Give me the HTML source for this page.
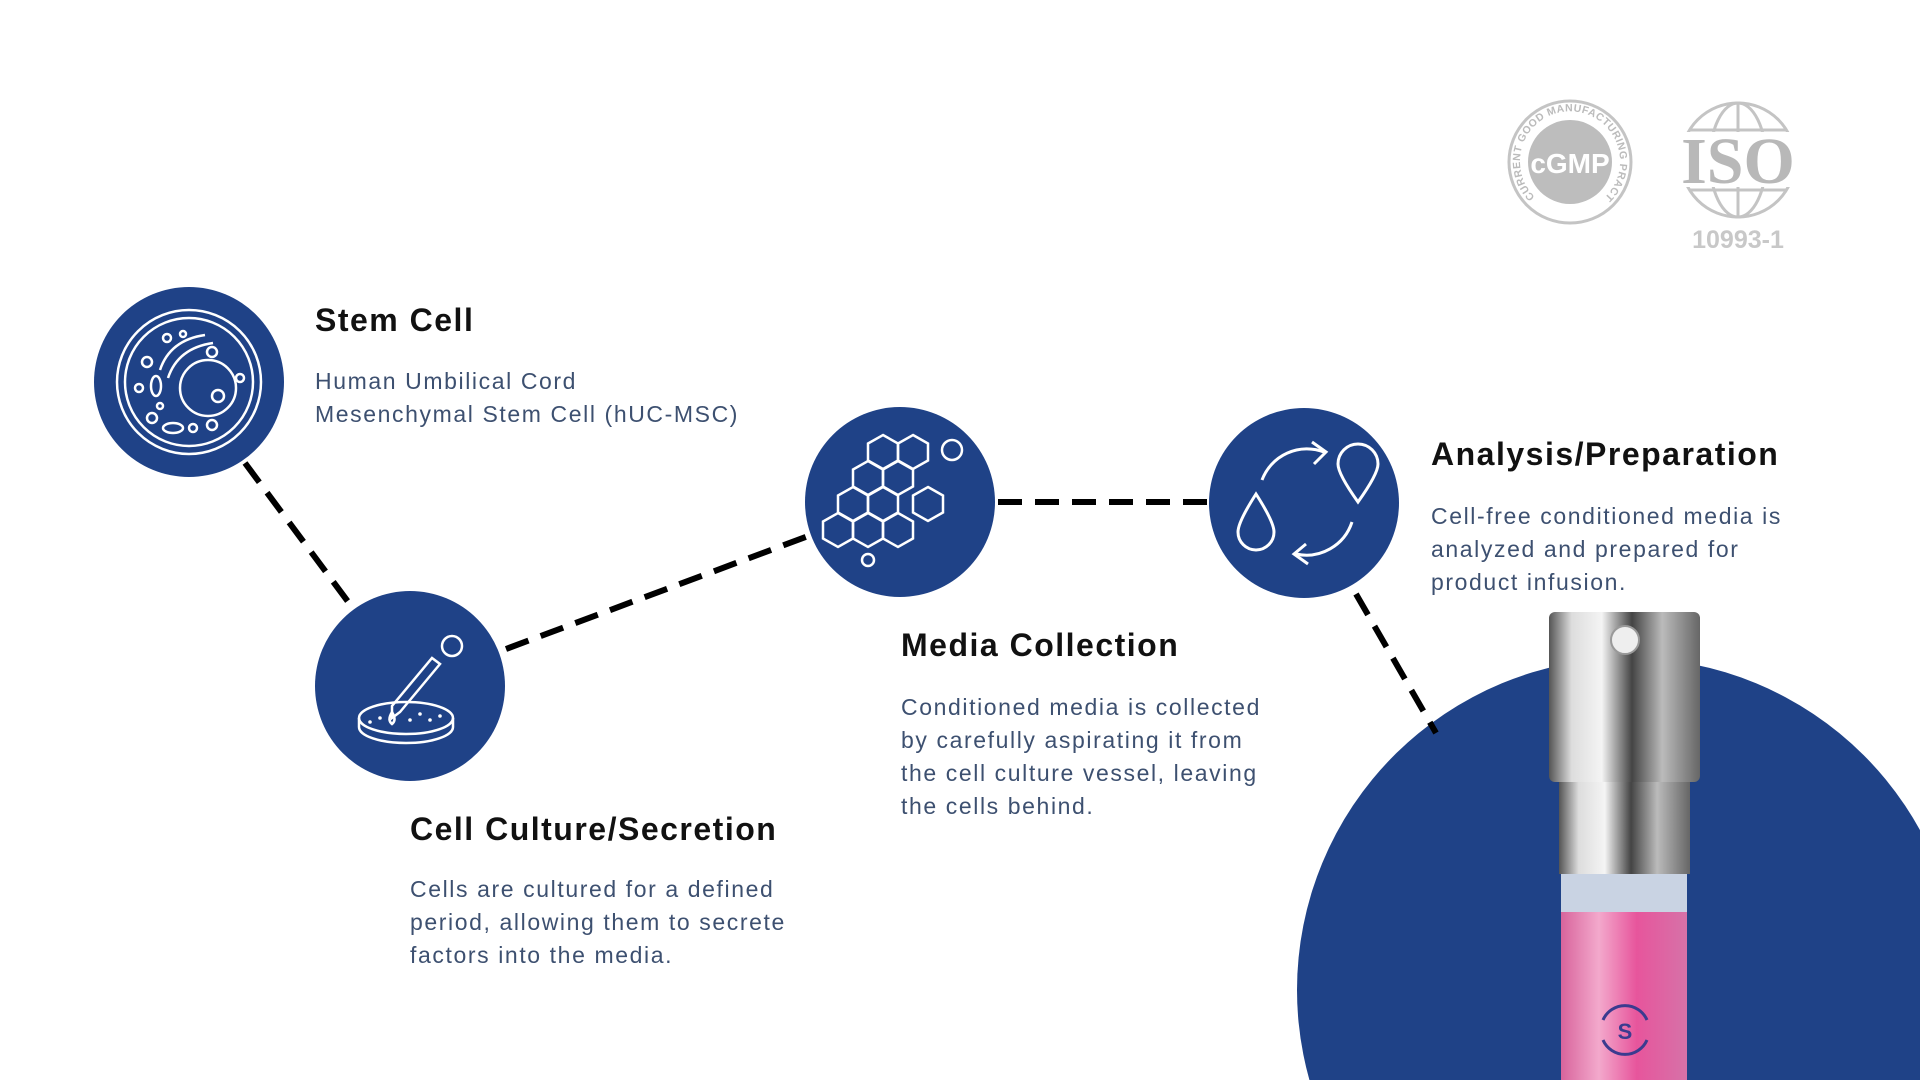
<!DOCTYPE html>
<html><head><meta charset="utf-8">
<style>
html,body{margin:0;padding:0;background:#fff;width:1920px;height:1080px;overflow:hidden;}
body{position:relative;font-family:"Liberation Sans",sans-serif;}
svg{position:absolute;left:0;top:0;display:block;}
.t{position:absolute;font-weight:bold;font-size:32px;color:#111;white-space:nowrap;line-height:40px;letter-spacing:1.5px;}
.b{position:absolute;font-size:23px;color:#3d5070;line-height:33px;white-space:nowrap;letter-spacing:1.6px;}
</style></head><body>
<svg width="1920" height="1080" viewBox="0 0 1920 1080">
 <defs>
  <linearGradient id="metal" x1="0" x2="1">
   <stop offset="0" stop-color="#555"/><stop offset="0.15" stop-color="#ddd"/><stop offset="0.35" stop-color="#f4f4f4"/><stop offset="0.55" stop-color="#444"/><stop offset="0.75" stop-color="#bbb"/><stop offset="1" stop-color="#666"/>
  </linearGradient>
  <linearGradient id="pink" x1="0" x2="1">
   <stop offset="0" stop-color="#d8649c"/><stop offset="0.3" stop-color="#f3a9cc"/><stop offset="0.6" stop-color="#e7559c"/><stop offset="1" stop-color="#d672a8"/>
  </linearGradient>
 </defs>
 <circle cx="1629" cy="990" r="332" fill="#1f4287"/>
 <g stroke="#000" stroke-width="6" stroke-dasharray="24 13" fill="none">
  <line x1="245" y1="463" x2="349" y2="603"/>
  <line x1="506" y1="649" x2="811" y2="535"/>
  <line x1="998" y1="502" x2="1210" y2="502"/>
  <line x1="1356" y1="594" x2="1436" y2="733"/>
 </g>
 <g fill="#1f4287">
  <circle cx="189" cy="382" r="95"/>
  <circle cx="410" cy="686" r="95"/>
  <circle cx="900" cy="502" r="95"/>
  <circle cx="1304" cy="503" r="95"/>
 </g>
 <g stroke="#fff" stroke-width="2.5" fill="none">
  <circle cx="189" cy="382" r="72"/><circle cx="189" cy="382" r="64"/>
  <circle cx="208" cy="388" r="28"/><circle cx="218" cy="396" r="6"/>
  <path d="M160 370 q10 -30 45 -35"/><path d="M168 378 q10 -30 45 -35"/>
  <circle cx="147" cy="362" r="5"/><circle cx="167" cy="338" r="4"/><circle cx="139" cy="388" r="4"/>
  <ellipse cx="156" cy="386" rx="5" ry="10"/><ellipse cx="173" cy="428" rx="10" ry="5"/>
  <circle cx="152" cy="418" r="5"/><circle cx="193" cy="428" r="4"/><circle cx="212" cy="425" r="5"/>
  <circle cx="212" cy="352" r="5"/><circle cx="183" cy="334" r="3"/><circle cx="240" cy="378" r="4"/><circle cx="160" cy="406" r="3"/>
 </g>
 <g stroke="#fff" stroke-width="2.5" fill="none">
  <ellipse cx="406" cy="718" rx="47" ry="16"/><path d="M359 718 v9 a47 16 0 0 0 94 0 v-9"/>
  <path d="M392 718 v-12 l40 -48 l8 6 l-40 48 z"/><circle cx="452" cy="646" r="10"/>
  <path d="M392 712 q-5 8 0 12 q5 -4 0 -12"/>
 </g>
 <g fill="#fff"><circle cx="380" cy="718" r="1.8"/><circle cx="410" cy="720" r="1.8"/><circle cx="420" cy="714" r="1.8"/><circle cx="430" cy="720" r="1.8"/><circle cx="370" cy="722" r="1.8"/><circle cx="440" cy="716" r="1.8"/></g>
 <g stroke="#fff" stroke-width="2.5" fill="none">
  <path id="hx" d="M0 -17 l15 8.5 v17 l-15 8.5 l-15 -8.5 v-17 z" transform="translate(868 478)"/>
  <use href="#hx" x="30" y="0"/><use href="#hx" x="15" y="-26"/><use href="#hx" x="45" y="-26"/>
  <use href="#hx" x="15" y="26"/><use href="#hx" x="-15" y="26"/><use href="#hx" x="60" y="26"/>
  <use href="#hx" x="30" y="52"/><use href="#hx" x="-30" y="52"/><use href="#hx" x="0" y="52"/>
  <circle cx="952" cy="450" r="10"/><circle cx="868" cy="560" r="6"/>
 </g>
 <g stroke="#fff" stroke-width="3" fill="none">
  <path d="M1262 480 a48 48 0 0 1 62 -28"/><path d="M1312 442 l14 10 l-12 12"/>
  <path d="M1352 522 a48 48 0 0 1 -56 32"/><path d="M1306 544 l-12 10 l14 10"/>
  <path d="M1256 494 q-18 28 -18 38 a18 18 0 0 0 36 0 q0 -10 -18 -38 z"/>
  <path d="M1358 502 q-20 -28 -20 -38 a20 20 0 0 1 40 0 q0 10 -20 38 z"/>
 </g>
 <rect x="1561" y="872" width="126" height="208" fill="url(#pink)"/>
 <rect x="1561" y="872" width="126" height="40" fill="#c9d3e3"/>
 <rect x="1559" y="781" width="131" height="93" fill="url(#metal)"/>
 <rect x="1549" y="612" width="151" height="170" rx="6" fill="url(#metal)"/>
 <circle cx="1625" cy="640" r="14" fill="#eee" stroke="#999" stroke-width="2"/>
 <g stroke="#3b3b8f" stroke-width="3" fill="none">
  <path d="M1603 1020 a24 24 0 0 1 44 0"/><path d="M1603 1040 a24 24 0 0 0 44 0"/>
 </g>
 <text x="1625" y="1039" text-anchor="middle" font-family="Liberation Sans" font-weight="bold" font-size="22" fill="#3b3b8f">S</text>
 <g>
  <circle cx="1570" cy="162" r="61" fill="#fff" stroke="#c4c4c4" stroke-width="3"/>
  <circle cx="1570" cy="162" r="42" fill="#bdbdbd"/>
  <text x="1570" y="173" text-anchor="middle" font-family="Liberation Sans" font-weight="bold" font-size="28" fill="#fff">cGMP</text>
  <path id="ring" d="M1535 197 A50 50 0 1 1 1605 197" fill="none"/>
  <text font-family="Liberation Sans" font-weight="bold" font-size="10.5" fill="#bbb" letter-spacing="0.5"><textPath href="#ring">CURRENT GOOD MANUFACTURING PRACTICE</textPath></text>
 </g>
 <g stroke="#c4c4c4" stroke-width="3" fill="none">
  <circle cx="1738" cy="160" r="57"/>
  <ellipse cx="1738" cy="160" rx="28" ry="57"/>
  <path d="M1738 103 v114 M1690 130 h96 M1690 190 h96"/>
 </g>
 <rect x="1668" y="132" width="140" height="55" fill="#fff"/>
 <text x="1738" y="183" text-anchor="middle" font-family="Liberation Serif" font-weight="bold" font-size="66" fill="#b8b8b8">ISO</text>
 <text x="1738" y="248" text-anchor="middle" font-family="Liberation Sans" font-weight="bold" font-size="25" fill="#c8c8c8">10993-1</text>
</svg>

<div class="t" style="left:315px;top:300px;">Stem Cell</div>
<div class="b" style="left:315px;top:365px;">Human Umbilical Cord<br>Mesenchymal Stem Cell (hUC-MSC)</div>

<div class="t" style="left:410px;top:809px;">Cell Culture/Secretion</div>
<div class="b" style="left:410px;top:873px;">Cells are cultured for a defined<br>period, allowing them to secrete<br>factors into the media.</div>

<div class="t" style="left:901px;top:625px;">Media Collection</div>
<div class="b" style="left:901px;top:691px;">Conditioned media is collected<br>by carefully aspirating it from<br>the cell culture vessel, leaving<br>the cells behind.</div>

<div class="t" style="left:1431px;top:434px;">Analysis/Preparation</div>
<div class="b" style="left:1431px;top:500px;">Cell-free conditioned media is<br>analyzed and prepared for<br>product infusion.</div>
</body></html>
